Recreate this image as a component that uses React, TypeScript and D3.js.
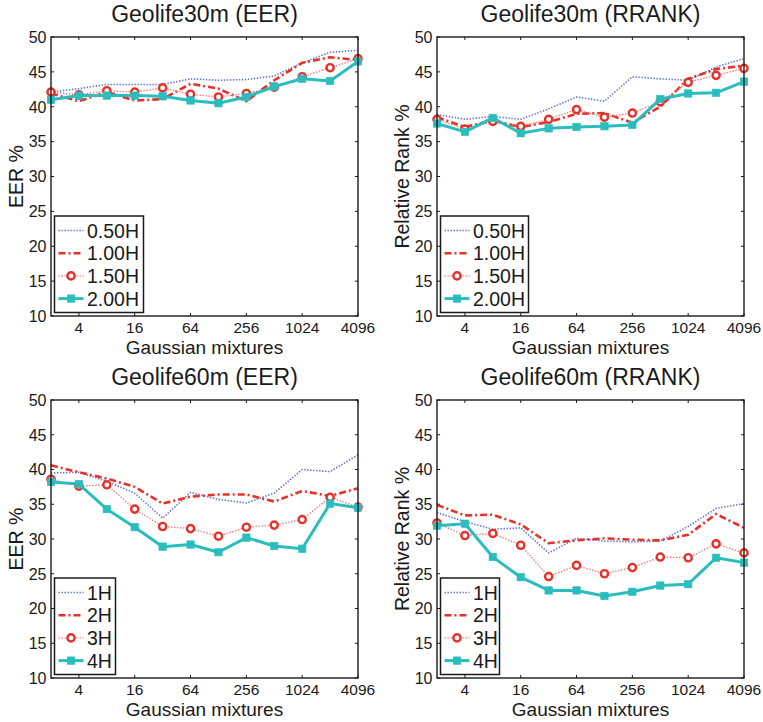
import React from "react";
import * as d3 from "d3";

// ---------- data ----------
const gaussianMixtures = [2, 4, 8, 16, 32, 64, 128, 256, 512, 1024, 2048, 4096];
const xTickValues = [4, 16, 64, 256, 1024, 4096];
const yTickValues = [10, 15, 20, 25, 30, 35, 40, 45, 50];

const labels30m = ["0.50H", "1.00H", "1.50H", "2.00H"];
const labels60m = ["1H", "2H", "3H", "4H"];

// Geolife30m EER
const eer30_h050 = [42.1, 42.6, 43.2, 43.2, 43.2, 44.0, 43.8, 43.9, 44.4, 46.3, 47.8, 48.1];
const eer30_h100 = [41.9, 40.8, 42.1, 40.9, 41.1, 43.3, 42.6, 40.8, 43.8, 46.3, 47.1, 46.7];
const eer30_h150 = [42.1, 41.7, 42.3, 42.1, 42.7, 41.8, 41.4, 41.9, 42.8, 44.3, 45.6, 46.9];
const eer30_h200 = [41.0, 41.6, 41.6, 41.6, 41.5, 40.9, 40.5, 41.4, 42.9, 44.0, 43.7, 46.5];

// Geolife30m RRANK
const rrank30_h050 = [38.9, 38.2, 38.6, 38.2, 39.7, 41.4, 40.8, 44.3, 44.0, 43.8, 45.7, 46.9];
const rrank30_h100 = [38.5, 37.1, 38.0, 37.1, 37.8, 39.0, 39.1, 37.7, 40.0, 44.0, 45.4, 45.9];
const rrank30_h150 = [38.2, 36.8, 37.9, 37.2, 38.2, 39.6, 38.5, 39.1, 40.7, 43.5, 44.5, 45.5];
const rrank30_h200 = [37.6, 36.4, 38.4, 36.2, 36.9, 37.1, 37.2, 37.4, 41.1, 41.9, 42.0, 43.6];

// Geolife60m EER
const eer60_h1 = [39.5, 39.6, 38.3, 36.6, 33.0, 36.7, 35.7, 35.2, 36.6, 40.0, 39.7, 42.1];
const eer60_h2 = [40.6, 39.6, 38.7, 37.5, 35.1, 36.1, 36.4, 36.4, 35.4, 36.9, 36.2, 37.3];
const eer60_h3 = [38.6, 37.6, 37.8, 34.3, 31.8, 31.5, 30.4, 31.7, 32.0, 32.8, 36.0, 34.6];
const eer60_h4 = [38.2, 37.9, 34.3, 31.7, 28.9, 29.2, 28.1, 30.2, 29.0, 28.6, 35.1, 34.5];

// Geolife60m RRANK
const rrank60_h1 = [33.8, 32.5, 31.4, 31.6, 28.0, 30.1, 29.7, 29.6, 29.7, 31.8, 34.4, 35.1];
const rrank60_h2 = [34.9, 33.4, 33.5, 32.1, 29.4, 29.8, 30.1, 29.9, 29.8, 30.6, 33.6, 31.6];
const rrank60_h3 = [32.3, 30.5, 30.8, 29.1, 24.6, 26.2, 25.0, 25.9, 27.4, 27.3, 29.3, 28.0];
const rrank60_h4 = [31.9, 32.2, 27.4, 24.5, 22.6, 22.6, 21.8, 22.4, 23.3, 23.5, 27.3, 26.6];

// ---------- styles ----------
const FONT = "'Liberation Sans', Arial, Helvetica, sans-serif";
const TEXT = "#1a1a1a";
const BLUE = "#6272d0";
const RED = "#e8302a";
const PINK = "#f07a78";
const TEAL = "#2bbdbd";

type SeriesStyle = {
  stroke: string;
  width: number;
  dash?: string;
  marker?: "circle" | "square";
};

const seriesStyles: SeriesStyle[] = [
  { stroke: BLUE, width: 1.6, dash: "1.4,1.6" },
  { stroke: RED, width: 2.6, dash: "7,3,2,3" },
  { stroke: PINK, width: 1.4, dash: "1.4,1.6", marker: "circle" },
  { stroke: TEAL, width: 3, marker: "square" },
];

type PanelProps = {
  title: string;
  yLabel: string;
  series: number[][];
  labels: string[];
  left: number;
  right: number;
  top: number;
  bottom: number;
  legendW: number;
};

function Marker({ kind, x, y }: { kind?: string; x: number; y: number }) {
  if (kind === "circle")
    return <circle cx={x} cy={y} r={3.6} fill="#fff" stroke={RED} strokeWidth={2.4} />;
  if (kind === "square")
    return <rect x={x - 3.7} y={y - 3.7} width={7.4} height={7.4} fill={TEAL} stroke={TEAL} strokeWidth={0.6} />;
  return null;
}

function Panel(p: PanelProps) {
  const x = d3.scaleLog().base(2).domain([2, 4096]).range([p.left, p.right]);
  const y = d3.scaleLinear().domain([10, 50]).range([p.bottom, p.top]);
  const tick = 3;
  const line = d3
    .line<number>()
    .x((_, i) => x(gaussianMixtures[i]))
    .y((d) => y(d));

  const legX = p.left + 3.5;
  const legY = p.bottom - 100;
  const rowH = 22.7;

  return (
    <g>
      <text
        x={(p.left + p.right) / 2}
        y={p.top - 15}
        textAnchor="middle"
        fontSize={23}
        fontFamily={FONT}
        fill={TEXT}
      >
        {p.title}
      </text>
      {/* y ticks */}
      {yTickValues.map((v) => (
        <g key={"y" + v}>
          <line x1={p.left} x2={p.left + tick} y1={y(v)} y2={y(v)} stroke={TEXT} strokeWidth={1} />
          <line x1={p.right} x2={p.right - tick} y1={y(v)} y2={y(v)} stroke={TEXT} strokeWidth={1} />
          <text
            x={p.left - 4.5}
            y={y(v)}
            dy="0.36em"
            textAnchor="end"
            fontSize={16}
            fontFamily={FONT}
            fill={TEXT}
          >
            {v}
          </text>
        </g>
      ))}
      {/* x ticks */}
      {xTickValues.map((v) => (
        <g key={"x" + v}>
          <line x1={x(v)} x2={x(v)} y1={p.bottom} y2={p.bottom - tick} stroke={TEXT} strokeWidth={1} />
          <line x1={x(v)} x2={x(v)} y1={p.top} y2={p.top + tick} stroke={TEXT} strokeWidth={1} />
          <text
            x={x(v)}
            y={p.bottom + 16.5}
            textAnchor="middle"
            fontSize={15.5}
            fontFamily={FONT}
            fill={TEXT}
          >
            {v}
          </text>
        </g>
      ))}
      <text
        x={(p.left + p.right) / 2}
        y={p.bottom + 37.5}
        textAnchor="middle"
        fontSize={19}
        fontFamily={FONT}
        fill={TEXT}
      >
        Gaussian mixtures
      </text>
      <text
        transform={`translate(${p.left - 28},${(p.top + p.bottom) / 2}) rotate(-90)`}
        textAnchor="middle"
        fontSize={19.5}
        fontFamily={FONT}
        fill={TEXT}
      >
        {p.yLabel}
      </text>
      {/* series */}
      {p.series.map((s, si) => {
        const st = seriesStyles[si];
        return (
          <g key={"s" + si}>
            <path
              d={line(s) || ""}
              fill="none"
              stroke={st.stroke}
              strokeWidth={st.width}
              strokeDasharray={st.dash}
              strokeLinejoin="round"
            />
            {s.map((v, i) => (
              <Marker key={i} kind={st.marker} x={x(gaussianMixtures[i])} y={y(v)} />
            ))}
          </g>
        );
      })}
      {/* frame */}
      <rect
        x={p.left}
        y={p.top}
        width={p.right - p.left}
        height={p.bottom - p.top}
        fill="none"
        stroke={TEXT}
        strokeWidth={1.4}
      />
      {/* legend */}
      <g>
        <rect x={legX} y={legY} width={p.legendW} height={96.5} fill="#fff" stroke={TEXT} strokeWidth={1.5} />
        {p.labels.map((lab, i) => {
          const st = seriesStyles[i];
          const cy = legY + 14.5 + i * rowH;
          return (
            <g key={"l" + i}>
              <line
                x1={legX + 4}
                x2={legX + 29}
                y1={cy}
                y2={cy}
                stroke={st.stroke}
                strokeWidth={st.width}
                strokeDasharray={st.dash}
              />
              <Marker kind={st.marker} x={legX + 16.5} y={cy} />
              <text x={legX + 32.5} y={cy} dy="0.36em" fontSize={19.5} fontFamily={FONT} fill={TEXT}>
                {lab}
              </text>
            </g>
          );
        })}
      </g>
    </g>
  );
}

export default function App() {
  return (
    <svg
      width={763}
      height={722}
      style={{ position: "absolute", left: 0, top: 0, background: "#fff" }}
    >
      <rect width={763} height={722} fill="#fff" />
      <Panel
        title="Geolife30m (EER)"
        yLabel="EER %"
        series={[eer30_h050, eer30_h100, eer30_h150, eer30_h200]}
        labels={labels30m}
        left={51}
        right={358}
        top={37}
        bottom={316}
        legendW={89}
      />
      <Panel
        title="Geolife30m (RRANK)"
        yLabel="Relative Rank %"
        series={[rrank30_h050, rrank30_h100, rrank30_h150, rrank30_h200]}
        labels={labels30m}
        left={437}
        right={744}
        top={37}
        bottom={316}
        legendW={88}
      />
      <Panel
        title="Geolife60m (EER)"
        yLabel="EER %"
        series={[eer60_h1, eer60_h2, eer60_h3, eer60_h4]}
        labels={labels60m}
        left={51}
        right={358}
        top={400}
        bottom={678}
        legendW={61}
      />
      <Panel
        title="Geolife60m (RRANK)"
        yLabel="Relative Rank %"
        series={[rrank60_h1, rrank60_h2, rrank60_h3, rrank60_h4]}
        labels={labels60m}
        left={437}
        right={744}
        top={400}
        bottom={678}
        legendW={59}
      />
    </svg>
  );
}
